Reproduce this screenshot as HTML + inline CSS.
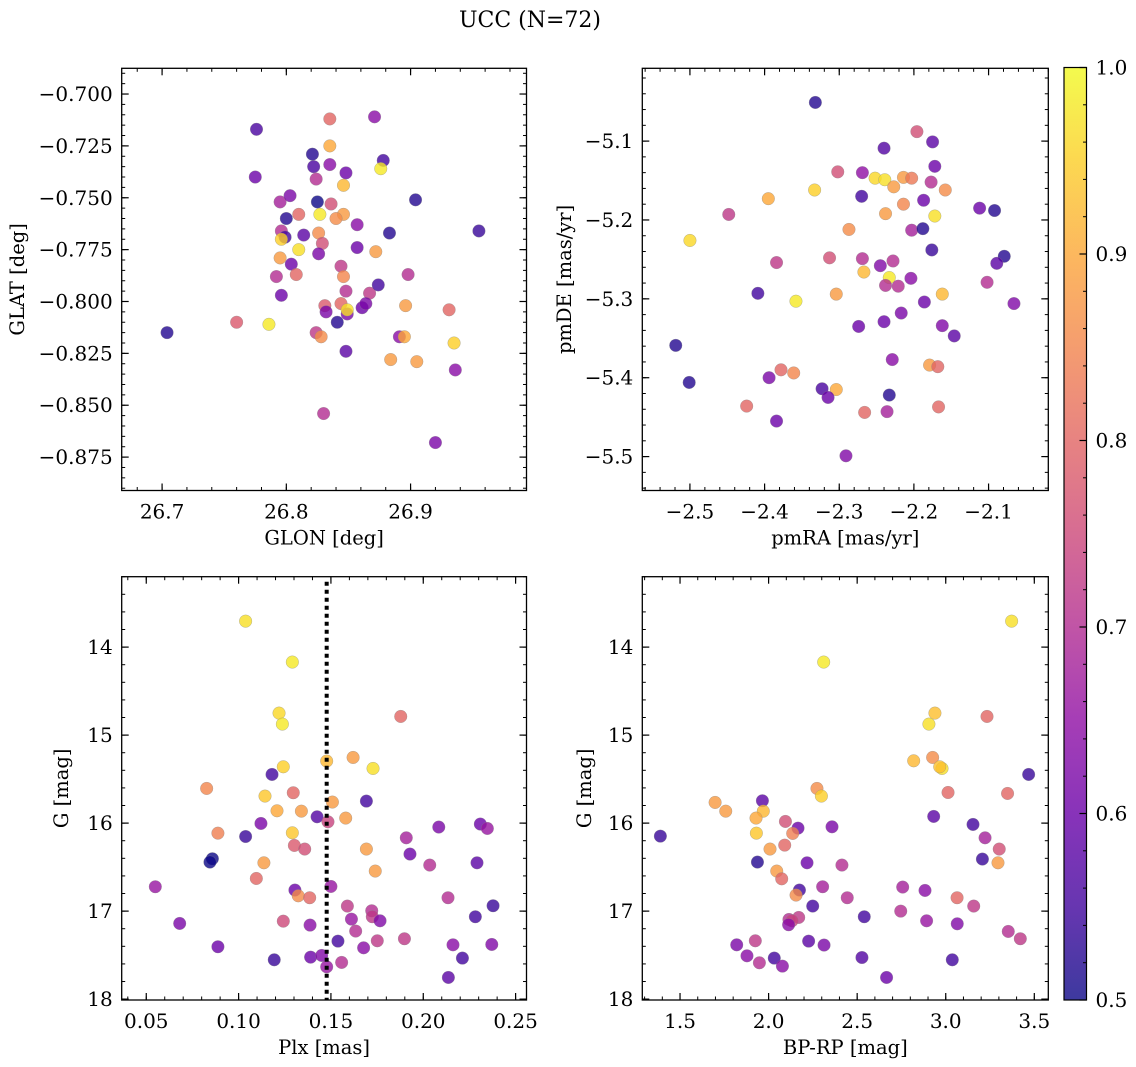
<!DOCTYPE html>
<html><head><meta charset="utf-8"><style>
html,body{margin:0;padding:0;background:#fff;}
svg{display:block;font-family:"DejaVu Serif","Liberation Serif",serif;}
</style></head><body>
<svg id="fig" width="1136" height="1067" viewBox="0 0 1136 1067" xmlns="http://www.w3.org/2000/svg">
<text x="530" y="27" font-size="22" text-anchor="middle">UCC (N=72)</text>
</svg>
<script>
// ---- Panel 1: GLON vs GLAT ----
const glon = [26.704,26.760,26.786,26.776,26.775,26.795,26.803,26.800,26.810,26.796,26.799,26.796,26.814,26.810,26.795,26.804,26.808,26.792,26.796,26.821,26.822,26.824,26.835,26.835,26.835,26.848,26.846,26.825,26.836,26.827,26.846,26.840,26.857,26.826,26.829,26.826,26.857,26.844,26.846,26.848,26.867,26.874,26.872,26.883,26.904,26.955,26.871,26.878,26.876,26.898,26.831,26.832,26.844,26.849,26.849,26.861,26.864,26.841,26.824,26.828,26.848,26.830,26.896,26.891,26.895,26.931,26.935,26.936,26.884,26.905,26.920];
const glat = [-0.815,-0.810,-0.811,-0.717,-0.740,-0.752,-0.749,-0.760,-0.758,-0.766,-0.769,-0.770,-0.768,-0.775,-0.779,-0.782,-0.787,-0.788,-0.797,-0.729,-0.735,-0.741,-0.712,-0.725,-0.734,-0.738,-0.744,-0.752,-0.753,-0.758,-0.758,-0.760,-0.763,-0.767,-0.772,-0.777,-0.774,-0.783,-0.788,-0.795,-0.796,-0.792,-0.776,-0.767,-0.751,-0.766,-0.711,-0.732,-0.736,-0.787,-0.802,-0.805,-0.801,-0.806,-0.804,-0.803,-0.801,-0.810,-0.815,-0.817,-0.824,-0.854,-0.802,-0.817,-0.817,-0.804,-0.820,-0.833,-0.828,-0.829,-0.868];
const prob1 = [0.52,0.78,0.98,0.56,0.6,0.68,0.62,0.52,0.8,0.7,0.55,0.95,0.58,0.97,0.88,0.6,0.8,0.7,0.6,0.52,0.56,0.7,0.8,0.9,0.64,0.6,0.92,0.5,0.76,0.98,0.88,0.86,0.64,0.86,0.76,0.62,0.6,0.72,0.85,0.7,0.72,0.55,0.88,0.52,0.52,0.54,0.64,0.55,0.98,0.7,0.78,0.62,0.8,0.62,0.97,0.6,0.62,0.52,0.72,0.86,0.58,0.7,0.88,0.64,0.9,0.8,0.95,0.64,0.88,0.88,0.62];
const xticks1 = [26.7,26.8,26.9];
const yticks1 = [-0.700,-0.725,-0.750,-0.775,-0.800,-0.825,-0.850,-0.875];

// ---- Panel 2: pmRA vs pmDE ----
const pmra = [-2.332,-2.196,-2.175,-2.240,-2.172,-2.302,-2.269,-2.252,-2.239,-2.214,-2.203,-2.177,-2.227,-2.158,-2.333,-2.395,-2.270,-2.187,-2.214,-2.112,-2.092,-2.448,-2.238,-2.172,-2.287,-2.203,-2.188,-2.500,-2.176,-2.079,-2.089,-2.384,-2.313,-2.269,-2.245,-2.228,-2.267,-2.233,-2.204,-2.238,-2.221,-2.102,-2.409,-2.304,-2.358,-2.162,-2.186,-2.066,-2.217,-2.240,-2.274,-2.162,-2.146,-2.519,-2.229,-2.378,-2.361,-2.394,-2.179,-2.168,-2.501,-2.323,-2.304,-2.315,-2.233,-2.424,-2.266,-2.236,-2.167,-2.384,-2.291];
const pmde = [-5.051,-5.088,-5.101,-5.109,-5.132,-5.139,-5.140,-5.147,-5.149,-5.146,-5.147,-5.152,-5.158,-5.162,-5.162,-5.173,-5.170,-5.175,-5.180,-5.185,-5.188,-5.193,-5.192,-5.195,-5.212,-5.213,-5.211,-5.226,-5.238,-5.246,-5.255,-5.254,-5.248,-5.249,-5.258,-5.252,-5.266,-5.273,-5.274,-5.283,-5.284,-5.279,-5.293,-5.294,-5.303,-5.294,-5.304,-5.306,-5.318,-5.329,-5.335,-5.334,-5.347,-5.359,-5.377,-5.390,-5.394,-5.400,-5.384,-5.386,-5.406,-5.414,-5.415,-5.425,-5.422,-5.436,-5.444,-5.443,-5.437,-5.455,-5.499];
const prob2 = [0.52,0.76,0.58,0.57,0.6,0.76,0.65,0.96,0.97,0.88,0.83,0.7,0.88,0.86,0.95,0.9,0.55,0.6,0.85,0.6,0.52,0.72,0.88,0.97,0.86,0.68,0.52,0.96,0.54,0.52,0.58,0.72,0.76,0.7,0.63,0.7,0.92,0.98,0.64,0.7,0.7,0.7,0.55,0.88,0.98,0.92,0.6,0.63,0.62,0.6,0.6,0.63,0.58,0.52,0.64,0.8,0.85,0.62,0.88,0.8,0.52,0.56,0.9,0.6,0.52,0.8,0.8,0.68,0.8,0.6,0.63];
const xticks2 = [-2.5,-2.4,-2.3,-2.2,-2.1];
const yticks2 = [-5.1,-5.2,-5.3,-5.4,-5.5];

// ---- Panel 3: Plx vs G ----
const plx = [0.1038,0.1291,0.1219,0.1237,0.1878,0.1477,0.162,0.1728,0.1242,0.1181,0.0827,0.1296,0.1143,0.1508,0.1692,0.1208,0.134,0.1425,0.158,0.1484,0.1121,0.0888,0.1038,0.1291,0.1302,0.1358,0.1692,0.1908,0.2084,0.2309,0.2347,0.0858,0.0845,0.1137,0.1928,0.2035,0.2291,0.174,0.1096,0.0549,0.1305,0.1323,0.1385,0.15,0.2134,0.2378,0.1589,0.1721,0.1724,0.1766,0.1611,0.2282,0.1242,0.1387,0.0681,0.1634,0.1538,0.1751,0.1898,0.2161,0.2371,0.0888,0.1677,0.1193,0.139,0.145,0.1477,0.1558,0.2212,0.2136];
const gmag3 = [13.705,14.17,14.75,14.875,14.788,15.295,15.254,15.379,15.36,15.447,15.606,15.655,15.693,15.761,15.75,15.86,15.864,15.928,15.943,15.985,16.004,16.114,16.152,16.11,16.254,16.295,16.295,16.167,16.045,16.011,16.061,16.405,16.443,16.451,16.352,16.477,16.451,16.545,16.629,16.723,16.761,16.826,16.848,16.72,16.848,16.939,16.943,16.996,17.064,17.11,17.091,17.064,17.114,17.159,17.14,17.227,17.341,17.337,17.314,17.383,17.379,17.405,17.417,17.553,17.523,17.504,17.633,17.583,17.534,17.754];
const prob3 = [0.97,0.98,0.96,0.98,0.8,0.92,0.88,0.97,0.95,0.55,0.85,0.8,0.94,0.88,0.55,0.9,0.88,0.57,0.88,0.74,0.62,0.84,0.54,0.94,0.78,0.76,0.88,0.68,0.62,0.6,0.66,0.5,0.48,0.88,0.6,0.7,0.58,0.88,0.8,0.66,0.6,0.86,0.8,0.66,0.7,0.54,0.72,0.7,0.72,0.63,0.66,0.55,0.75,0.64,0.62,0.7,0.55,0.72,0.72,0.64,0.63,0.6,0.64,0.54,0.6,0.63,0.66,0.7,0.55,0.58];
const plxMedian = [0.1477];
const xticks3 = [0.05,0.10,0.15,0.20,0.25];
const yticksG = [14,15,16,17,18];

// ---- Panel 4: BP-RP vs G ----
const bprp = [3.372,2.311,2.939,2.905,3.233,2.819,2.926,2.979,2.966,3.468,2.273,2.298,1.698,1.758,1.965,1.97,1.929,3.013,3.349,2.932,3.154,1.389,2.095,2.166,2.136,1.931,2.358,2.008,2.091,3.222,3.302,1.937,2.217,2.414,3.207,3.295,2.046,2.074,2.174,2.155,2.305,2.444,2.249,2.757,2.883,3.064,3.158,2.54,2.746,2.892,3.065,2.115,2.17,2.132,2.113,3.353,3.421,1.82,1.925,2.226,2.313,1.878,1.948,2.032,2.078,2.527,3.037,2.666];
const gmag4 = [13.705,14.17,14.75,14.875,14.788,15.292,15.254,15.379,15.36,15.447,15.606,15.693,15.765,15.864,15.746,15.864,15.943,15.652,15.663,15.924,16.015,16.148,15.981,16.057,16.117,16.114,16.042,16.295,16.25,16.167,16.295,16.443,16.451,16.477,16.409,16.451,16.545,16.633,16.761,16.818,16.723,16.848,16.943,16.727,16.765,16.848,16.943,17.064,17.0,17.11,17.144,17.095,17.072,17.11,17.155,17.231,17.314,17.383,17.337,17.341,17.386,17.508,17.587,17.534,17.625,17.527,17.553,17.754];
const prob4 = [0.97,0.98,0.93,0.97,0.8,0.92,0.86,0.97,0.93,0.54,0.86,0.95,0.88,0.88,0.58,0.92,0.9,0.8,0.8,0.58,0.55,0.54,0.76,0.6,0.84,0.94,0.62,0.88,0.8,0.68,0.76,0.52,0.6,0.7,0.54,0.88,0.88,0.8,0.55,0.86,0.68,0.7,0.55,0.68,0.64,0.8,0.72,0.55,0.7,0.66,0.63,0.7,0.72,0.74,0.64,0.7,0.72,0.62,0.72,0.58,0.62,0.64,0.7,0.55,0.64,0.57,0.55,0.6];
const xticks4 = [1.5,2.0,2.5,3.0,3.5];

// ---- Colorbar ----
const cbTicks = [0.5,0.6,0.7,0.8,0.9,1.0];

const NS = 'http://www.w3.org/2000/svg';
const svg = document.getElementById('fig');
const TFS = 20, LFS = 19.5;
function mk(tag, attrs, parent){const e=document.createElementNS(NS,tag);for(const k in attrs)e.setAttribute(k,attrs[k]);(parent||svg).appendChild(e);return e;}
const plasma=[[13,8,135],[65,4,157],[106,0,168],[143,13,164],[177,42,144],[204,71,120],[225,100,98],[242,132,75],[252,166,54],[252,206,37],[240,249,33]];
function cmap(v){let t=Math.max(0,Math.min(1,(v-0.5)/0.5))*10;const i=Math.min(9,Math.floor(t));const f=t-i;const a=plasma[i],b=plasma[i+1];return 'rgb('+a.map((c,j)=>Math.round(c+(b[j]-c)*f)).join(',')+')';}
function fmt(v,d){return (v<0?'\u2212':'')+Math.abs(v).toFixed(d);}

function panel(o){
  const g=mk('g',{});
  
  
  const sx=v=>o.x0+(v-o.xmin)/(o.xmax-o.xmin)*(o.x1-o.x0);
  const sy=v=>o.yinv? o.y0+(v-o.ymin)/(o.ymax-o.ymin)*(o.y1-o.y0) : o.y1-(v-o.ymin)/(o.ymax-o.ymin)*(o.y1-o.y0);
  for(let i=0;i<Math.min(o.xs.length,o.ys.length);i++){
    const c=mk('circle',{cx:sx(o.xs[i]),cy:sy(o.ys[i]),r:6.3,fill:cmap(o.cs[i]),'fill-opacity':0.8,stroke:'#888','stroke-opacity':0.6,'stroke-width':0.5},g);
    
    
  }
  if(o.vline){
    const l=mk('line',{x1:sx(o.vline[0]),x2:sx(o.vline[0]),y1:o.y0+5,y2:o.y1,stroke:'#000','stroke-width':4,'stroke-dasharray':'4 4'},g);
    
    
  }
  const minorX=[];for(let v=Math.ceil(o.xmin/o.xmn-1e-6)*o.xmn;v<=o.xmax+1e-9;v+=o.xmn)minorX.push(v);
  const minorY=[];for(let v=Math.ceil(o.ymin/o.ymn-1e-6)*o.ymn;v<=o.ymax+1e-9;v+=o.ymn)minorY.push(v);
  minorX.forEach(v=>{const x=sx(v);mk('line',{x1:x,x2:x,y1:o.y1,y2:o.y1-3.5,stroke:'#000','stroke-width':1},g);mk('line',{x1:x,x2:x,y1:o.y0,y2:o.y0+3.5,stroke:'#000','stroke-width':1},g);});
  minorY.forEach(v=>{const y=sy(v);mk('line',{x1:o.x0,x2:o.x0+3.5,y1:y,y2:y,stroke:'#000','stroke-width':1},g);mk('line',{x1:o.x1,x2:o.x1-3.5,y1:y,y2:y,stroke:'#000','stroke-width':1},g);});
  o.xt.forEach(v=>{const x=sx(v);mk('line',{x1:x,x2:x,y1:o.y1,y2:o.y1-7,stroke:'#000','stroke-width':1.2},g);mk('line',{x1:x,x2:x,y1:o.y0,y2:o.y0+7,stroke:'#000','stroke-width':1.2},g);
    const t=mk('text',{x:x,y:o.y1+28,'font-size':TFS,'text-anchor':'middle'},g);t.textContent=fmt(v,o.xd);
    
    });
  o.yt.forEach(v=>{const y=sy(v);mk('line',{x1:o.x0,x2:o.x0+7,y1:y,y2:y,stroke:'#000','stroke-width':1.2},g);mk('line',{x1:o.x1,x2:o.x1-7,y1:y,y2:y,stroke:'#000','stroke-width':1.2},g);
    const t=mk('text',{x:o.x0-9,y:y+7,'font-size':TFS,'text-anchor':'end'},g);t.textContent=fmt(v,o.yd);
    
    });
  const fr=mk('rect',{x:o.x0,y:o.y0,width:o.x1-o.x0,height:o.y1-o.y0,fill:'none',stroke:'#000','stroke-width':1.3},g);
  
  
  const xl=mk('text',{x:(o.x0+o.x1)/2,y:o.y1+54,'font-size':LFS,'text-anchor':'middle'},g);xl.textContent=o.xlabel;
  
  
  const yc=(o.y0+o.y1)/2;
  const yl=mk('text',{x:o.ylx,y:yc,'font-size':LFS,'text-anchor':'middle',transform:'rotate(-90 '+o.ylx+' '+yc+')'},g);yl.textContent=o.ylabel;
  
  
}

panel({name:'glon-glat-panel',xs:glon,ys:glat,cs:prob1,x0:121.7,x1:526.5,y0:68.3,y1:490.5,xmin:26.6675,xmax:26.9933,ymin:-0.8911,ymax:-0.6876,xt:xticks1,yt:yticks1,xd:1,yd:3,xmn:0.02,ymn:0.005,xlabel:'GLON [deg]',ylabel:'GLAT [deg]',ylx:24});
panel({name:'pmra-pmde-panel',xs:pmra,ys:pmde,cs:prob2,x0:642.3,x1:1048.3,y0:68.3,y1:490.5,xmin:-2.5638,xmax:-2.020,ymin:-5.543,ymax:-5.0077,xt:xticks2,yt:yticks2,xd:1,yd:1,xmn:0.02,ymn:0.02,xlabel:'pmRA [mas/yr]',ylabel:'pmDE [mas/yr]',ylx:571});
panel({name:'plx-g-panel',xs:plx,ys:gmag3,cs:prob3,vline:plxMedian,x0:121.7,x1:526.5,y0:576.7,y1:1000,yinv:true,xmin:0.0367,xmax:0.2559,ymin:13.20,ymax:18.01,xt:xticks3,yt:yticksG,xd:2,yd:0,xmn:0.01,ymn:0.2,xlabel:'Plx [mas]',ylabel:'G [mag]',ylx:68});
panel({name:'bprp-g-panel',xs:bprp,ys:gmag4,cs:prob4,x0:642.3,x1:1048.3,y0:576.7,y1:1000,yinv:true,xmin:1.287,xmax:3.579,ymin:13.20,ymax:18.01,xt:xticks4,yt:yticksG,xd:1,yd:0,xmn:0.1,ymn:0.2,xlabel:'BP-RP [mag]',ylabel:'G [mag]',ylx:591});

(function(){
  const cx0=1064,cx1=1086.5,cy0=67.5,cy1=1000;
  const cg=mk('g',{});
  
  
  const defs=mk('defs',{},svg);
  const lg=mk('linearGradient',{id:'cbg',x1:0,y1:1,x2:0,y2:0},defs);
  for(let i=0;i<=20;i++){const v=0.5+i*0.025;mk('stop',{offset:(i/20),'stop-color':cmap(v),'stop-opacity':0.8},lg);}
  mk('rect',{x:cx0,y:cy0,width:cx1-cx0,height:cy1-cy0,fill:'url(#cbg)',stroke:'#000','stroke-width':1.2},cg);
  const sy=v=>cy1-(v-0.5)/0.5*(cy1-cy0);
  for(let k=0;k<=25;k++){const v=0.5+k*0.02;const y=sy(v);mk('line',{x1:cx1,x2:cx1-3.5,y1:y,y2:y,stroke:'#000','stroke-width':1},cg);}
  cbTicks.forEach(v=>{const y=sy(v);mk('line',{x1:cx1,x2:cx1-7,y1:y,y2:y,stroke:'#000','stroke-width':1.2},cg);
    const t=mk('text',{x:cx1+9,y:y+7,'font-size':TFS},cg);t.textContent=v.toFixed(1);
    
    });
})();
</script>
</body></html>
